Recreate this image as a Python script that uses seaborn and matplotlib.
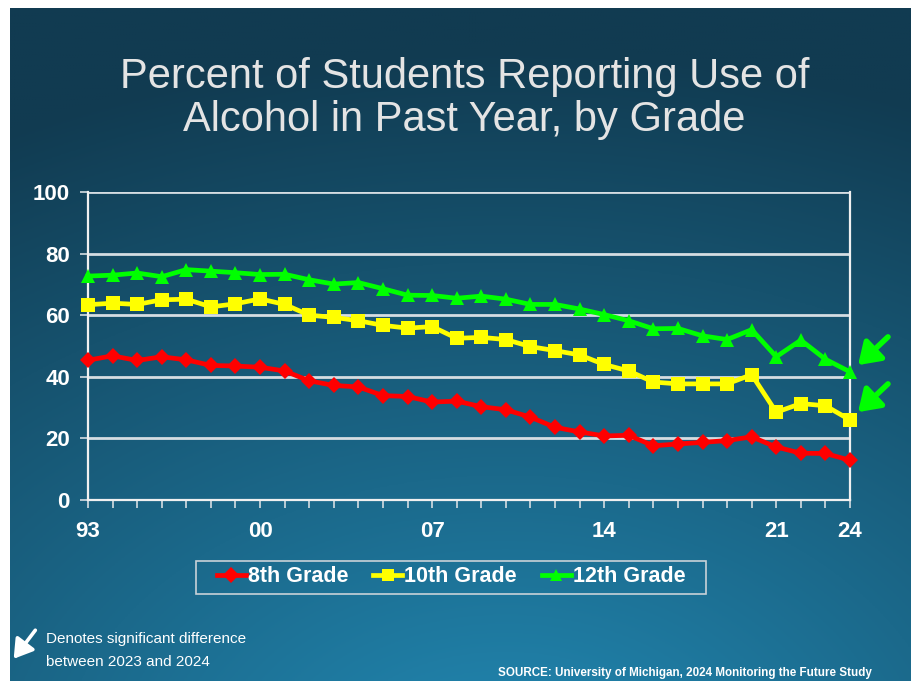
import numpy as np
import pandas as pd
import matplotlib
matplotlib.use("Agg")
import matplotlib.pyplot as plt
from matplotlib.colors import to_rgb
import seaborn as sns

years = list(range(1993, 2025))
grade8 = [45.4, 46.8, 45.3, 46.5, 45.5, 43.7, 43.5, 43.1, 41.9, 38.7, 37.2, 36.7,
          33.9, 33.6, 31.8, 32.1, 30.3, 29.3, 26.9, 23.6, 22.1, 20.8, 21.0, 17.6,
          18.2, 18.7, 19.3, 20.5, 17.2, 15.2, 15.1, 12.9]
grade10 = [63.4, 63.9, 63.5, 65.0, 65.2, 62.7, 63.7, 65.3, 63.5, 60.0, 59.3, 58.2,
           56.7, 55.8, 56.3, 52.5, 52.8, 52.1, 49.8, 48.5, 47.1, 44.0, 41.9, 38.3,
           37.7, 37.7, 37.7, 40.7, 28.5, 31.3, 30.6, 26.0]
grade12 = [72.7, 73.0, 73.7, 72.5, 74.8, 74.3, 73.8, 73.2, 73.3, 71.5, 70.1, 70.6,
           68.6, 66.5, 66.4, 65.5, 66.2, 65.2, 63.5, 63.5, 62.0, 60.2, 58.2, 55.6,
           55.7, 53.3, 52.1, 55.3, 46.5, 51.9, 45.7, 41.6]
grade_names = ["8th Grade", "10th Grade", "12th Grade"]
grade_colors = ["#ff0000", "#ffff00", "#00ff00"]
grade_markers = ["D", "s", "^"]
year_labels = {1993: "93", 2000: "00", 2007: "07", 2014: "14", 2021: "21", 2024: "24"}
y_ticks = [0, 20, 40, 60, 80, 100]
title_lines = ["Percent of Students Reporting Use of", "Alcohol in Past Year, by Grade"]

df = pd.DataFrame({
    "year": years * 3,
    "pct": grade8 + grade10 + grade12,
    "grade": sum([[g] * len(years) for g in grade_names], []),
})

W, H = 911, 681
fig = plt.figure(figsize=(W / 100, H / 100), dpi=100, facecolor="white")

# slide background: radial gradient, lighter toward the bottom centre
bg = fig.add_axes([10 / W, 0, (W - 10) / W, (H - 8) / H])
bg.set_axis_off()
gx, gy = np.meshgrid(np.linspace(0, 1, 300), np.linspace(0, 1, 240))
d = np.sqrt(((gx - 0.55) * 1.0) ** 2 + ((gy - 1.15) * 1.1) ** 2)
t = np.clip((d - 0.15) / 1.05, 0, 1)[..., None]
c_light = np.array(to_rgb("#2080a8"))
c_dark = np.array(to_rgb("#113b51"))
img = c_light * (1 - t) + c_dark * t
bg.imshow(img, aspect="auto", extent=[0, 1, 0, 1], origin="upper")
bg.set_xlim(0, 1)
bg.set_ylim(0, 1)

ax = fig.add_axes([88 / W, 1 - 500 / H, (850 - 88) / W, (500 - 192) / H])
ax.set_facecolor("none")

sns.lineplot(data=df, x="year", y="pct", hue="grade", style="grade",
             hue_order=grade_names, style_order=grade_names,
             palette=dict(zip(grade_names, grade_colors)),
             markers=dict(zip(grade_names, grade_markers)),
             dashes=False, linewidth=3.4, markersize=9, markeredgewidth=0,
             ax=ax, clip_on=False, legend=False, zorder=5)
# diamonds read smaller than squares
for line, ms in zip(ax.lines, [8, 9.5, 10]):
    line.set_markersize(ms)

ax.set_xlim(1993, 2024)
ax.set_ylim(0, 100)
ax.set_xticks(years)
ax.set_xticklabels([year_labels.get(y, "") for y in years])
ax.set_yticks(y_ticks)
ax.set_yticklabels([str(v) for v in y_ticks])
ax.set_xlabel("")
ax.set_ylabel("")
grid_c = "#d5dde2"
for v in y_ticks[1:]:
    ax.axhline(v, color=grid_c, lw=2, zorder=1)
for side in ["left", "right", "bottom"]:
    ax.spines[side].set_color("#f0f0f0")
    ax.spines[side].set_linewidth(1.6)
ax.spines["top"].set_visible(False)
ax.tick_params(axis="y", length=6, width=1.2, color=grid_c, pad=7,
               labelsize=16, labelcolor="white")
ax.tick_params(axis="x", length=6, width=1.2, color=grid_c, pad=9,
               labelsize=16, labelcolor="white")
for lab in ax.get_xticklabels() + ax.get_yticklabels():
    lab.set_fontfamily("Liberation Sans")
    lab.set_fontweight("bold")

# title, two centred lines
for line_txt, base_y, cx in zip(title_lines, [88, 131], [465, 464]):
    fig.text(cx / W, 1 - base_y / H, line_txt, ha="center", va="baseline",
             fontsize=30, color="#e4e4e4", family="Liberation Sans")

# legend: entries without a frame, boxed by a separate rectangle
handles = [plt.Line2D([], [], color=c, marker=m, lw=3.4, markersize=8, markeredgewidth=0)
           for c, m in zip(grade_colors, grade_markers)]
leg = fig.legend(handles, grade_names, loc="center", bbox_to_anchor=(451 / W, 1 - 577 / H),
                 ncol=3, frameon=False, handlelength=1.35,
                 handletextpad=0.1, columnspacing=1.15, borderpad=0.3, borderaxespad=0,
                 prop={"family": "Liberation Sans", "weight": "bold", "size": 15.5})
for txt in leg.get_texts():
    txt.set_color("white")
fig.patches.append(matplotlib.patches.Rectangle(
    (196 / W, 1 - 594 / H), (706 - 196) / W, (594 - 561) / H, transform=fig.transFigure,
    fill=False, edgecolor="#c8d2d8", lw=1.2))

# markers of significant change, 2023 to 2024
for y0, y1 in [(335, 367), (382, 414)]:
    fig.patches.append(matplotlib.patches.FancyArrowPatch(
        (890 / W, 1 - y0 / H), (856 / W, 1 - y1 / H), transform=fig.transFigure,
        arrowstyle="-|>,head_length=9,head_width=6", color="#00ff00", lw=4,
        mutation_scale=1.4))

# footnote
fig.patches.append(matplotlib.patches.FancyArrowPatch(
    (37 / W, 1 - 628 / H), (12 / W, 1 - 661 / H), transform=fig.transFigure,
    arrowstyle="-|>,head_length=8,head_width=5", color="white", lw=2.6,
    mutation_scale=1.4))
fig.text(46 / W, 1 - 643 / H, "Denotes significant difference",
         ha="left", va="baseline", fontsize=11, color="white", family="Liberation Sans")
fig.text(46 / W, 1 - 666 / H, "between 2023 and 2024",
         ha="left", va="baseline", fontsize=11, color="white", family="Liberation Sans")
fig.text(872 / W, 1 - 673 / H, "SOURCE: University of Michigan, 2024 Monitoring the Future Study",
         ha="right", va="center", fontsize=8.4, color="white",
         family="Liberation Sans", weight="bold")

fig.savefig("out.png", dpi=100, facecolor="white")
